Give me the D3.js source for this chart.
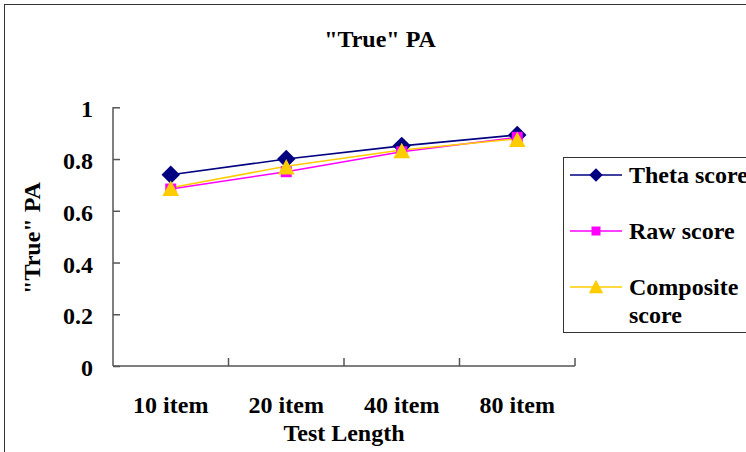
<!DOCTYPE html>
<html><head><meta charset="utf-8">
<script src="https://cdn.jsdelivr.net/npm/d3@7"></script>
</head><body style="margin:0">
<svg id="c" width="746" height="452" font-family="Liberation Serif" font-weight="bold"></svg>
<script>
const categories = ["10 item", "20 item", "40 item", "80 item"];
const thetaScore = [0.739, 0.800, 0.851, 0.893];
const rawScore = [0.684, 0.751, 0.828, 0.884];
const compositeScore = [0.689, 0.772, 0.835, 0.878];
const yTicks = [0, 0.2, 0.4, 0.6, 0.8, 1];
const seriesNames = ["Theta score", "Raw score", "Composite score"];

const FONT = "Liberation Serif";
const diamond = {draw(ctx, size) { const r = Math.sqrt(size / 2); ctx.moveTo(0, -r); ctx.lineTo(r, 0); ctx.lineTo(0, r); ctx.lineTo(-r, 0); ctx.closePath(); }};
const triangle = {draw(ctx, size) { const w = Math.sqrt(size * 4 / Math.sqrt(3)); const hh = w * Math.sqrt(3) / 2; ctx.moveTo(0, -hh / 2 - 1); ctx.lineTo(w / 2, hh / 2); ctx.lineTo(-w / 2, hh / 2); ctx.closePath(); }};

const series = [
  {name: seriesNames[0], values: thetaScore, color: "#000080", symbol: diamond},
  {name: seriesNames[1], values: rawScore, color: "#FF00FF", symbol: d3.symbolSquare},
  {name: seriesNames[2], values: compositeScore, color: "#FFCC00", symbol: triangle}
];

const svg = d3.select("#c");
svg.append("rect").attr("x", 4.5).attr("y", 4.5).attr("width", 800).attr("height", 500)
  .attr("fill", "none").attr("stroke", "#333").attr("stroke-width", 1);

function txt(sel) {
  return sel.attr("font-family", FONT).attr("font-weight", "bold").attr("font-size", 24).attr("fill", "#000")
    .style("font-family", "'Liberation Serif'").style("font-weight", "bold").style("font-size", "24px");
}

const x0 = 113, x1 = 575, yTop = 107.3, yBot = 366;
const x = d3.scaleBand().domain(categories).range([x0, x1]);
const y = d3.scaleLinear().domain([0, 1]).range([yBot, yTop]);

txt(svg.append("text")).attr("x", 380).attr("y", 47).attr("text-anchor", "middle").text('"True" PA');

const yAxis = svg.append("g").attr("transform", `translate(${x0},0)`)
  .call(d3.axisRight(y).tickValues(yTicks).tickSize(7).tickFormat(d => d3.format("")(d)));
yAxis.attr("font-family", FONT).attr("font-size", 24);
yAxis.select(".domain").remove();
yAxis.selectAll("line").attr("stroke", "#555").attr("stroke-width", 1.5);
txt(yAxis.selectAll("text")).attr("x", -20).attr("text-anchor", "end").attr("dy", "0.4em");
svg.append("line").attr("x1", x0).attr("x2", x0).attr("y1", yTop).attr("y2", yBot)
  .attr("stroke", "#555").attr("stroke-width", 1.5);

svg.append("line").attr("x1", x0).attr("x2", x1).attr("y1", yBot).attr("y2", yBot)
  .attr("stroke", "#555").attr("stroke-width", 1.5);
const boundaries = categories.map(c => x(c) + x.bandwidth());
svg.selectAll(".xtick").data(boundaries).enter().append("line")
  .attr("x1", d => d).attr("x2", d => d).attr("y1", yBot).attr("y2", yBot - 8)
  .attr("stroke", "#555").attr("stroke-width", 1.5);
txt(svg.selectAll(".xlab").data(categories).enter().append("text"))
  .attr("x", d => x(d) + x.bandwidth() / 2).attr("y", 413)
  .attr("text-anchor", "middle").text(d => d);

txt(svg.append("text")).attr("x", 344).attr("y", 441).attr("text-anchor", "middle").text("Test Length");
txt(svg.append("text")).attr("transform", "translate(40,238) rotate(-90)").attr("text-anchor", "middle").text('"True" PA');

const line = d3.line().x((d, i) => x(categories[i]) + x.bandwidth() / 2).y(d => y(d));
const sizes = [170, 121, 120];
series.forEach((s) => {
  svg.append("path").datum(s.values).attr("d", line).attr("fill", "none")
    .attr("stroke", s.color).attr("stroke-width", 1.6);
});
series.forEach((s, k) => {
  svg.selectAll(".m" + k).data(s.values).enter().append("path")
    .attr("transform", (d, i) => `translate(${x(categories[i]) + x.bandwidth() / 2},${y(d) + (k === 2 ? 1 : 0)})`)
    .attr("d", d3.symbol().type(s.symbol).size(sizes[k])).attr("fill", s.color);
});

const lg = svg.append("g");
lg.append("rect").attr("x", 563.5).attr("y", 157.5).attr("width", 200).attr("height", 175)
  .attr("fill", "#fff").attr("stroke", "#333").attr("stroke-width", 1);
const rows = [175, 231, 287];
const lsizes = [90, 81, 90];
series.forEach((s, k) => {
  const ry = rows[k];
  lg.append("line").attr("x1", 570).attr("x2", 622).attr("y1", ry).attr("y2", ry)
    .attr("stroke", s.color).attr("stroke-width", 1.6);
  lg.append("path").attr("transform", `translate(596,${ry})`)
    .attr("d", d3.symbol().type(s.symbol).size(lsizes[k])).attr("fill", s.color);
});
txt(lg.append("text")).attr("x", 629).attr("y", 183).text(seriesNames[0]);
txt(lg.append("text")).attr("x", 629).attr("y", 239).text(seriesNames[1]);
const ct = txt(lg.append("text")).attr("x", 629).attr("y", 295);
ct.append("tspan").attr("x", 629).text("Composite");
ct.append("tspan").attr("x", 629).attr("y", 323).text("score");
</script>
</body></html>
